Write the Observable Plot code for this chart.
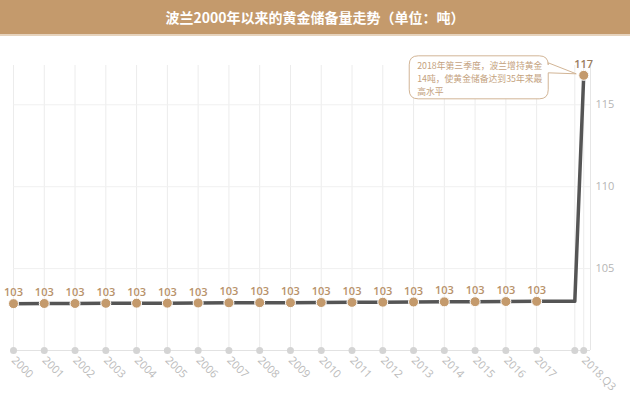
<!DOCTYPE html>
<html>
<head>
<meta charset="utf-8">
<script src="https://cdn.jsdelivr.net/npm/d3@7"></script>
<script src="https://cdn.jsdelivr.net/npm/@observablehq/plot@0.6"></script>
<style>
  html, body { margin: 0; padding: 0; background: #fff; }
  #title {
    height: 34px; line-height: 34px; background: #c49a6c; color: #fff;
    text-align: center; font-family: "Noto Sans CJK SC", sans-serif; font-weight: bold; font-size: 14px;
    border-bottom: 2px solid #e6d3bd;
  }
  #chart { width: 630px; }
</style>
</head>
<body>
<div id="title">波兰2000年以来的黄金储备量走势（单位：吨）</div>
<div id="chart"></div>
<script>
const periods = [2000, 2001, 2002, 2003, 2004, 2005, 2006, 2007, 2008, 2009, 2010, 2011, 2012, 2013, 2014, 2015, 2016, 2017, 2018.24, 2018.53];
const periodLabels = ["2000", "2001", "2002", "2003", "2004", "2005", "2006", "2007", "2008", "2009", "2010", "2011", "2012", "2013", "2014", "2015", "2016", "2017", "", "2018.Q3"];
const goldTonnes = [102.86, 102.87, 102.87, 102.88, 102.89, 102.89, 102.9, 102.91, 102.92, 102.92, 102.93, 102.94, 102.95, 102.96, 102.97, 102.98, 102.99, 103.0, 103.0, 116.8];
const showPoint = [true, true, true, true, true, true, true, true, true, true, true, true, true, true, true, true, true, true, false, true];
const yTicks = [105, 110, 115];
const xDomain = [2000, 2018.75];
const yDomain = [100, 117.4];
const noteLines = ["2018年第三季度，波兰增持黄金", "14吨，使黄金储备达到35年来最", "高水平"];

const data = periods.map((p, i) => ({x: p, label: periodLabels[i], v: goldTonnes[i], show: showPoint[i], last: i === periods.length - 1}));
const shown = data.filter(d => d.show);

const plot = Plot.plot({
  width: 630,
  height: 357,
  marginLeft: 13,
  marginRight: 40,
  marginTop: 29,
  marginBottom: 43,
  style: {fontFamily: "'Open Sans', sans-serif", background: "#fff"},
  x: {domain: xDomain},
  y: {domain: yDomain},
  marks: [
    Plot.ruleX(periods, {stroke: "#ececec", strokeWidth: 1}),
    Plot.ruleY(yTicks, {stroke: "#f0f0f0", strokeWidth: 1}),
    Plot.ruleY([yDomain[0]], {stroke: "#e2e2e2"}),
    Plot.ruleX([xDomain[1]], {stroke: "#e6e6e6"}),
    Plot.axisY({anchor: "right", ticks: yTicks, tickSize: 0, tickPadding: 5, label: null, fill: "#b5b5b5", fontSize: 11}),
    Plot.axisX({ticks: periods, tickFormat: (d) => periodLabels[periods.indexOf(d)], tickRotate: 45, tickSize: 0, tickPadding: 8, label: null, fill: "#bbb", fontSize: 11}),
    Plot.dot(periods, {x: d => d, y: () => yDomain[0], r: 3.5, fill: "#d4d4d4"}),
    Plot.line(data, {x: "x", y: "v", stroke: "#555", strokeWidth: 3.5}),
    Plot.dot(shown, {x: "x", y: "v", r: 5, fill: "#c49a6c", stroke: "#fff", strokeWidth: 1}),
    Plot.text(shown.filter(d => !d.last), {x: "x", y: "v", text: d => d3.format(".0f")(d.v), dy: -11, fill: "#b8926a", fontSize: 11, fontWeight: 600}),
    Plot.text(shown.filter(d => d.last), {x: "x", y: "v", text: d => d3.format(".0f")(d.v), dy: -11, fill: "#9a7d60", fontSize: 11, fontWeight: 600})
  ]
});
document.getElementById("chart").appendChild(plot);

// Annotation callout anchored to the 2018 Q3 point via the plot's scales
const last = data[data.length - 1];
const px = plot.scale("x").apply(last.x);
const py = plot.scale("y").apply(last.v);
const L = px - 174, R = px - 35, T = py - 19, B = py + 24, r = 9;
const tailTop = py - 12, tailBot = py - 2, tipX = px - 7, tipY = py - 1;
const path = `M${L + r},${T} H${R - r} Q${R},${T} ${R},${T + r} V${tailTop} L${tipX},${tipY} L${R},${tailBot} V${B - r} Q${R},${B} ${R - r},${B} H${L + r} Q${L},${B} ${L},${B - r} V${T + r} Q${L},${T} ${L + r},${T} Z`;
const svg = d3.select(plot);
const g = svg.append("g");
g.append("path").attr("d", path).attr("fill", "#fff").attr("stroke", "#d2b596").attr("stroke-width", 1);
g.selectAll("text").data(noteLines).join("text")
  .attr("x", L + 8)
  .attr("y", (d, i) => py - 9 + i * 13)
  .attr("dy", "0.35em")
  .attr("text-anchor", "start")
  .attr("fill", "#c4a27e")
  .attr("font-size", 8.8)
  .attr("font-family", "'Noto Sans CJK SC', sans-serif")
  .text(d => d);
// keep the point and its label on top
svg.node().appendChild(svg.selectAll("g[aria-label='dot']").nodes().slice(-1)[0]);
svg.node().appendChild(svg.selectAll("g[aria-label='text']").nodes().slice(-1)[0]);
</script>
</body>
</html>
